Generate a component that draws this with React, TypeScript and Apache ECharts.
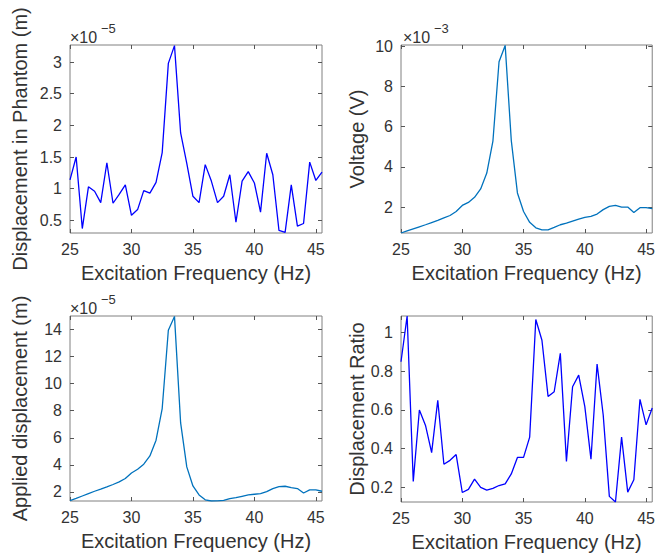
import React, { useEffect, useRef } from "react";
import * as echarts from "echarts";

// Excitation frequencies (Hz)
const freqs = [
  25, 25.5, 26, 26.5, 27, 27.5, 28, 28.5, 29, 29.5, 30, 30.5, 31, 31.5, 32, 32.5,
  33, 33.5, 34, 34.5, 35, 35.5, 36, 36.5, 37, 37.5, 38, 38.5, 39, 39.5, 40, 40.5,
  41, 41.5, 42, 42.5, 43, 43.5, 44, 44.5, 45, 45.5,
];

// Displacement in phantom (x1e-5 m)
const phantomDisp = [
  1.14, 1.5, 0.37, 1.03, 0.96, 0.78, 1.41, 0.77, 0.91, 1.06, 0.58, 0.67, 0.97, 0.93,
  1.1, 1.57, 2.98, 3.26, 1.88, 1.4, 0.88, 0.78, 1.38, 1.12, 0.78, 0.88, 1.22, 0.47,
  1.12, 1.27, 1.09, 0.63, 1.56, 1.22, 0.34, 0.31, 1.06, 0.41, 0.45, 1.42, 1.13, 1.26,
];

// Voltage (x1e-3 V)
const voltage = [
  0.71, 0.82, 0.92, 1.02, 1.12, 1.23, 1.34, 1.46, 1.58, 1.78, 2.08, 2.23, 2.48, 2.9,
  3.69, 5.27, 9.22, 10.03, 5.3, 2.7, 1.78, 1.24, 0.97, 0.87, 0.87, 0.99, 1.12, 1.2,
  1.3, 1.4, 1.49, 1.54, 1.65, 1.87, 2.03, 2.08, 2.0, 2.0, 1.73, 1.97, 1.97, 1.92,
];

// Applied displacement (x1e-5 m)
const appliedDisp = [
  1.36, 1.52, 1.7, 1.88, 2.05, 2.2, 2.37, 2.55, 2.74, 2.99, 3.4, 3.68, 4.05, 4.66,
  5.82, 8.16, 13.95, 14.97, 7.1, 3.85, 2.44, 1.78, 1.42, 1.33, 1.34, 1.38, 1.51, 1.58,
  1.68, 1.78, 1.83, 1.88, 2.02, 2.25, 2.39, 2.42, 2.32, 2.25, 1.92, 2.15, 2.15, 2.05,
];

// Displacement ratio
const dispRatio = [
  0.849, 1.085, 0.231, 0.6, 0.52, 0.38, 0.65, 0.32, 0.34, 0.37, 0.174, 0.19, 0.243, 0.2,
  0.186, 0.195, 0.21, 0.219, 0.27, 0.355, 0.355, 0.46, 1.067, 0.96, 0.67, 0.694, 0.892,
  0.334, 0.72, 0.78, 0.617, 0.346, 0.837, 0.574, 0.154, 0.125, 0.46, 0.176, 0.24, 0.655,
  0.523, 0.61,
];

// Tick labels
const xTicks = [25, 30, 35, 40, 45];
const phantomTicks = [0.5, 1, 1.5, 2, 2.5, 3];
const voltageTicks = [2, 4, 6, 8, 10];
const appliedTicks = [2, 4, 6, 8, 10, 12, 14];
const ratioTicks = [0.2, 0.4, 0.6, 0.8, 1];

const FONT = "'Liberation Sans', Arial, Helvetica, sans-serif";
const TEXT = "#333333";
const FRAME = "#808080";

type Panel = {
  grid: { left: number; top: number; width: number; height: number };
  yName: string;
  yMin: number;
  yMax: number;
  yTicks: number[];
  values: number[];
  color: string;
  yNameGap: number;
};

const panels: Panel[] = [
  {
    grid: { left: 70, top: 45, width: 252, height: 188 },
    yName: "Displacement in Phantom (m)",
    yMin: 0.3,
    yMax: 3.27,
    yTicks: phantomTicks,
    values: phantomDisp,
    color: "#0000ff",
    yNameGap: 40,
  },
  {
    grid: { left: 401, top: 45, width: 255, height: 188 },
    yName: "Voltage (V)",
    yMin: 0.71,
    yMax: 10.05,
    yTicks: voltageTicks,
    values: voltage,
    color: "#0072bd",
    yNameGap: 34,
  },
  {
    grid: { left: 70, top: 316, width: 252, height: 185 },
    yName: "Applied displacement (m)",
    yMin: 1.33,
    yMax: 15.0,
    yTicks: appliedTicks,
    values: appliedDisp,
    color: "#0072bd",
    yNameGap: 40,
  },
  {
    grid: { left: 401, top: 316, width: 255, height: 186 },
    yName: "Displacement Ratio",
    yMin: 0.125,
    yMax: 1.085,
    yTicks: ratioTicks,
    values: dispRatio,
    color: "#0000ff",
    yNameGap: 34,
  },
];

const tickStyle = { color: "#555555", width: 1 };

function buildOption() {
  const grids: any[] = [];
  const xAxes: any[] = [];
  const yAxes: any[] = [];
  const series: any[] = [];

  panels.forEach((p, i) => {
    grids.push({
      ...p.grid,
      show: true,
      borderColor: FRAME,
      borderWidth: 1,
      backgroundColor: "#ffffff",
      containLabel: false,
    });
    const xBase = {
      type: "value",
      gridIndex: i,
      min: 25,
      max: 45.5,
      axisLine: { show: false },
      splitLine: { show: false },
    };
    xAxes.push({
      ...xBase,
      position: "bottom",
      name: "Excitation Frequency (Hz)",
      nameLocation: "middle",
      nameGap: 30,
      nameTextStyle: { fontFamily: FONT, fontSize: 20, color: TEXT },
      axisTick: { show: true, inside: true, length: 4, customValues: xTicks, lineStyle: tickStyle },
      axisLabel: { show: true, customValues: xTicks, margin: 8, fontFamily: FONT, fontSize: 16, color: TEXT },
    });
    xAxes.push({
      ...xBase,
      position: "top",
      axisTick: { show: true, inside: true, length: 4, customValues: xTicks, lineStyle: tickStyle },
      axisLabel: { show: false },
    });
    const yBase = {
      type: "value",
      gridIndex: i,
      min: p.yMin,
      max: p.yMax,
      axisLine: { show: false },
      splitLine: { show: false },
    };
    yAxes.push({
      ...yBase,
      position: "left",
      name: p.yName,
      nameLocation: "middle",
      nameRotate: 90,
      nameGap: p.yNameGap,
      nameTextStyle: { fontFamily: FONT, fontSize: 20, color: TEXT },
      axisTick: { show: true, inside: true, length: 4, customValues: p.yTicks, lineStyle: tickStyle },
      axisLabel: { show: true, customValues: p.yTicks, margin: 8, fontFamily: FONT, fontSize: 16, color: TEXT },
    });
    yAxes.push({
      ...yBase,
      position: "right",
      axisTick: { show: true, inside: true, length: 4, customValues: p.yTicks, lineStyle: tickStyle },
      axisLabel: { show: false },
    });
    series.push({
      type: "line",
      xAxisIndex: 2 * i,
      yAxisIndex: 2 * i,
      data: freqs.map((f, k) => [f, p.values[k]]),
      showSymbol: false,
      symbol: "none",
      lineStyle: { color: p.color, width: 1.3 },
      itemStyle: { color: p.color },
      clip: true,
    });
  });

  const mult = (x: number, y: number, exp: string) => [
    {
      type: "text",
      x,
      y,
      style: { text: "×10", fontFamily: FONT, fontSize: 16, fill: TEXT, align: "left", verticalAlign: "top" },
    },
    {
      type: "text",
      x: x + 31,
      y: y - 7,
      style: { text: exp, fontFamily: FONT, fontSize: 13, fill: TEXT, align: "left", verticalAlign: "top" },
    },
  ];

  return {
    animation: false,
    backgroundColor: "#ffffff",
    grid: grids,
    xAxis: xAxes,
    yAxis: yAxes,
    series,
    graphic: [
      ...mult(70, 29, "\u22125"),
      ...mult(403, 29, "\u22123"),
      ...mult(70, 300, "\u22125"),
    ],
  };
}

export default function App() {
  const ref = useRef<HTMLDivElement>(null);
  useEffect(() => {
    if (!ref.current) return;
    const chart = echarts.init(ref.current, undefined, { renderer: "svg" });
    chart.setOption(buildOption() as any);
    return () => chart.dispose();
  }, []);
  return (
    <div
      ref={ref}
      style={{ position: "fixed", left: 0, top: 0, width: 658, height: 560, background: "#fff" }}
    />
  );
}
